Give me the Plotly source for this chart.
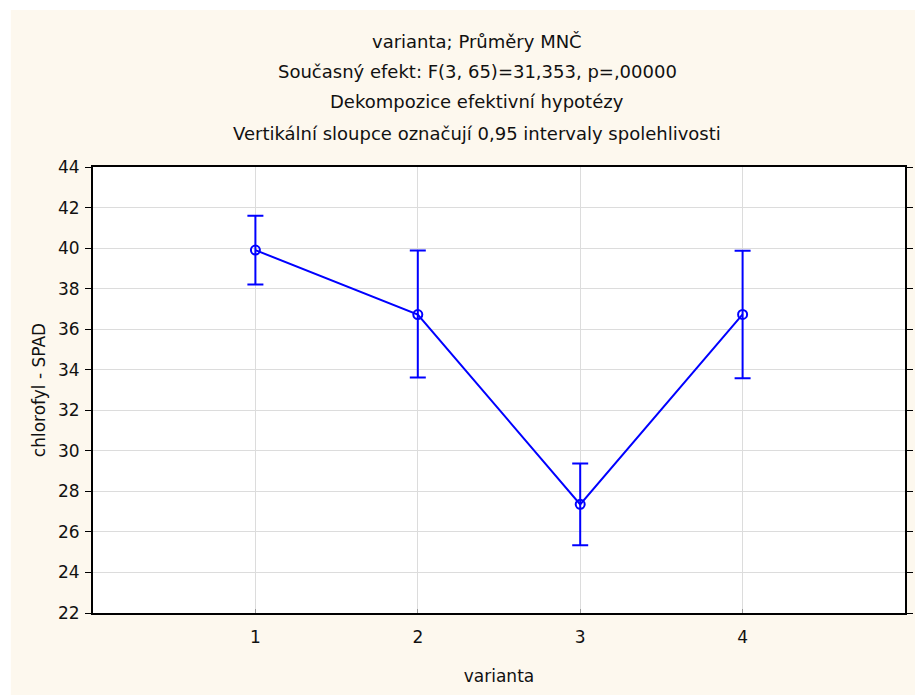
import plotly.graph_objects as go

categories = [1, 2, 3, 4]
means = [39.9, 36.72, 27.36, 36.73]
ci_upper = [41.6, 39.88, 29.38, 39.87]
ci_lower = [38.2, 33.62, 25.34, 33.58]
y_ticks = [22, 24, 26, 28, 30, 32, 34, 36, 38, 40, 42, 44]
title_lines = [
    "varianta; Průměry MNČ",
    "Současný efekt: F(3, 65)=31,353, p=,00000",
    "Dekompozice efektivní hypotézy",
    "Vertikální sloupce označují 0,95 intervaly spolehlivosti",
]

err_plus = [u - m for u, m in zip(ci_upper, means)]
err_minus = [m - l for m, l in zip(means, ci_lower)]

FONT = "DejaVu Sans, Liberation Sans, Arial, sans-serif"
BLUE = "#0000FF"
CREAM = "#FDF8EE"

fig = go.Figure()
fig.add_trace(go.Scatter(
    x=categories, y=means, mode="lines+markers",
    line=dict(color=BLUE, width=2),
    marker=dict(symbol="circle-open", size=9, color=BLUE, line=dict(width=2, color=BLUE)),
    error_y=dict(type="data", symmetric=False, array=err_plus, arrayminus=err_minus,
                 color=BLUE, thickness=2, width=8),
    showlegend=False,
))

# page body has an 8px margin, so the figure sits at screen (8, 8)
OFF = 8
SW, SH = 923, 695
W, H = SW - OFF, SH - OFF
L, R, T, B = 93 - OFF, 10, 167 - OFF, 82
pw = W - L - R
ph = H - T - B

def px_x(sx):
    return (sx - OFF - L) / pw

def px_y(sy):
    return (H - (sy - OFF) - B) / ph

# white strips so the cream panel starts 10px from the screen top/left
fig.add_shape(type="rect", xref="paper", yref="paper",
              x0=px_x(0), x1=px_x(SW + 5), y0=px_y(10), y1=px_y(0),
              fillcolor="white", line=dict(width=0), layer="below")
fig.add_shape(type="rect", xref="paper", yref="paper",
              x0=px_x(0), x1=px_x(10), y0=px_y(SH + 5), y1=px_y(0),
              fillcolor="white", line=dict(width=0), layer="below")

title_y = [41, 71, 102, 133]
for txt, yy in zip(title_lines, title_y):
    fig.add_annotation(text=txt, xref="paper", yref="paper",
                       x=px_x(481), y=px_y(yy),
                       showarrow=False, xanchor="center", yanchor="middle",
                       font=dict(family=FONT, size=18, color="#111111"))

fig.update_layout(
    width=W, height=H,
    margin=dict(l=L, r=R, t=T, b=B),
    paper_bgcolor=CREAM,
    plot_bgcolor="white",
    font=dict(family=FONT, size=17, color="#111111"),
    xaxis=dict(range=[0, 5], tickvals=categories, ticktext=[str(c) for c in categories],
               showgrid=True, gridcolor="#DCDCDC", gridwidth=1,
               showline=True, linecolor="black", linewidth=2, mirror=True,
               ticks="inside", ticklen=4, tickcolor="#999999",
               zeroline=False, ticklabelstandoff=8,
               title=dict(text="varianta", standoff=24, font=dict(size=17))),
    yaxis=dict(range=[22, 44], tickvals=y_ticks,
               showgrid=True, gridcolor="#DCDCDC", gridwidth=1,
               showline=True, linecolor="black", linewidth=2, mirror="ticks",
               ticks="outside", ticklen=6, tickcolor="black",
               zeroline=False, ticklabelstandoff=2,
               title=dict(text="chlorofyl - SPAD", standoff=8, font=dict(size=17))),
)

fig.write_html("out.html")
